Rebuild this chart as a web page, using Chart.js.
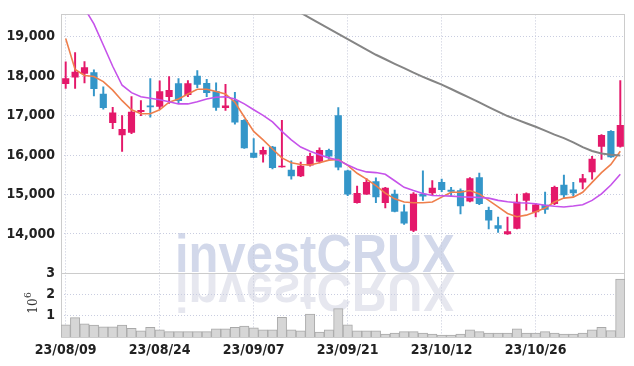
<!DOCTYPE html>
<html><head><meta charset="utf-8">
<script src="https://cdn.jsdelivr.net/npm/chart.js@4.4.0/dist/chart.umd.min.js"></script>
<style>html,body{margin:0;padding:0;background:#fff;}#wrap{width:634px;height:366px;}</style>
</head><body><div id="wrap"><canvas id="c" width="634" height="366"></canvas></div>
<script>
const dates = ["23/08/09","23/08/10","23/08/11","23/08/14","23/08/16","23/08/17","23/08/18","23/08/21","23/08/22","23/08/23",
"23/08/24","23/08/25","23/08/28","23/08/29","23/08/30","23/08/31","23/09/01","23/09/04","23/09/05","23/09/06",
"23/09/07","23/09/08","23/09/11","23/09/12","23/09/13","23/09/14","23/09/15","23/09/18","23/09/19","23/09/20",
"23/09/21","23/09/22","23/09/25","23/09/26","23/09/27","23/10/04","23/10/05","23/10/06","23/10/10","23/10/11",
"23/10/12","23/10/13","23/10/16","23/10/17","23/10/18","23/10/19","23/10/20","23/10/23","23/10/24","23/10/25",
"23/10/26","23/10/27","23/10/30","23/10/31","23/11/01","23/11/02","23/11/03","23/11/06","23/11/07","23/11/08"];
const openP  = [17810,17975,18070,18090,17545,16820,16510,16570,17100,17250,17230,17480,17810,17530,18000,17820,17610,17200,17380,16880,
16050,16020,16200,15700,15620,15470,15740,15840,16120,17000,15600,14790,15010,15330,14790,15010,14560,14090,15010,15040,
15310,15110,15100,14830,15430,14600,14210,14000,14140,14850,14560,14730,14770,15240,15120,15310,15570,16220,16600,16220];
const highP  = [18360,18600,18370,18160,17730,17210,17000,17480,17380,17940,17880,17990,17940,17890,18140,17920,17830,17790,17590,16900,
16420,16200,16220,16880,15850,15820,16050,16180,16150,17200,15620,15210,15400,15420,15180,15110,14740,15050,15600,15350,
15390,15180,15140,15430,15540,14680,14430,14430,15010,15040,14770,15060,15210,15490,15310,15510,15970,16520,16620,17890];
const lowP   = [17690,17690,17830,17500,17160,16670,16090,16540,17000,16960,17170,17310,17300,17480,17710,17480,17130,17130,16780,16170,
15930,15820,15650,15690,15390,15450,15720,15800,15890,15620,14970,14780,15000,14790,14660,14560,14240,14060,14850,14970,
15070,14970,14510,14810,14740,14130,14040,13990,14130,14600,14430,14520,14740,14910,14960,15140,15390,15890,15940,16200];
const closeP = [17940,18100,18220,17680,17200,17070,16650,17090,17130,17220,17610,17640,17380,17810,17790,17580,17210,17250,16830,16180,
15940,16120,15680,15720,15470,15720,15970,16120,15970,15690,15010,15030,15310,14940,15160,14570,14270,15010,14960,15160,
15120,15080,14710,15400,14770,14350,14140,14060,14810,15020,14740,14620,15180,14990,15040,15400,15900,16500,15950,16750];
const maShort = [18955,18167,18017,17992,17860,17644,17378,17147,17047,17047,17147,17338,17420,17545,17669,17669,17610,17545,17338,16965,
16600,16383,16152,15928,15803,15761,15746,15803,15870,15886,15736,15537,15388,15224,15032,14890,14808,14791,14791,14808,
14933,15057,15057,15099,15015,14851,14684,14517,14435,14476,14560,14659,14808,14908,14933,15057,15306,15555,15761,16094];
const maMid = [20800,20260,19720,19323,18789,18251,17769,17582,17478,17438,17403,17353,17296,17296,17353,17420,17463,17478,17420,17296,
17147,17005,16841,16600,16383,16201,16094,16010,15928,15870,15746,15637,15572,15555,15512,15348,15182,15099,15024,14975,
14966,14958,14941,14933,14925,14908,14851,14816,14791,14783,14766,14726,14701,14684,14709,14741,14851,15015,15239,15512];
const maLong = [null,null,null,null,null,null,null,null,null,null,null,null,null,null,null,null,null,null,null,null,
null,null,null,null,19761,19607,19473,19338,19204,19070,18938,18803,18672,18542,18428,18313,18201,18087,17983,17883,
17784,17674,17560,17448,17336,17216,17100,16988,16898,16806,16716,16617,16517,16430,16320,16201,16102,16040,16010,15990];
const volume = [570000,910000,620000,560000,480000,480000,560000,410000,290000,460000,340000,250000,250000,250000,250000,250000,380000,380000,460000,520000,
430000,340000,340000,930000,340000,290000,1080000,230000,340000,1340000,570000,290000,290000,290000,140000,180000,250000,250000,180000,140000,
90000,90000,140000,340000,250000,180000,180000,180000,380000,180000,180000,250000,180000,140000,140000,180000,340000,460000,300000,2730000];
const priceTicks = [14000,15000,16000,17000,18000,19000];
const volumeTicks = [1000000,2000000,3000000];
const dateTickIdx = [0,10,20,30,40,50];

const UP = '#e4186a', DOWN = '#3496c9';
const isUp = i => closeP[i] >= openP[i];
const idx = dates.map((d,i)=>i);
const tickFont = {family:"'Liberation Sans Narrow','DejaVu Sans Condensed',sans-serif", size:14, weight:'bold'};

const watermark = {
  id:'watermark',
  beforeDraw(chart){
    const ctx = chart.ctx;
    const txt = 'investCRUX';
    ctx.save();
    ctx.font = 'bold 53px "Liberation Sans", Arial, sans-serif';
    const w = ctx.measureText(txt).width;
    const sx = 280 / w;
    ctx.textBaseline = 'alphabetic';
    ctx.save(); ctx.translate(175, 272); ctx.scale(sx, 1); ctx.fillStyle = '#d2d8ea'; ctx.fillText(txt, 0, 0); ctx.restore();
    ctx.save(); ctx.translate(175, 273.5); ctx.scale(sx, -1); ctx.fillStyle = '#e6e7ef'; ctx.fillText(txt, 0, 0); ctx.restore();
    ctx.restore();
  },
  beforeDatasetsDraw(chart){
    const ctx = chart.ctx, a = chart.chartArea;
    const yv = chart.scales.yv;
    ctx.save();
    ctx.strokeStyle = '#cccccc'; ctx.lineWidth = 1;
    ctx.strokeRect(Math.round(a.left)+0.5, Math.round(a.top)+0.5, Math.round(a.right-a.left)-1, Math.round(a.bottom-a.top));
    const yd = Math.round(yv.getPixelForValue(volumeTicks[2]))+0.5;
    ctx.beginPath(); ctx.moveTo(a.left, yd); ctx.lineTo(a.right, yd); ctx.stroke();
    // volume axis exponent label
    ctx.fillStyle = '#333';
    ctx.translate(37, 306);
    ctx.rotate(-Math.PI/2);
    ctx.font = '12px "DejaVu Serif", serif';
    ctx.textBaseline = 'alphabetic';
    ctx.textAlign = 'center';
    ctx.fillText('10', 0, 0);
    ctx.font = '9px "DejaVu Serif", serif';
    ctx.textAlign = 'left';
    ctx.fillText('6', 8, -6);
    ctx.restore();
  }
};

new Chart(document.getElementById('c'), {
  type:'bar',
  data:{
    datasets:[
      {type:'line', label:'MA long', data: idx.map(i=>({x:i,y:maLong[i]})), borderColor:'#858585', borderWidth:2, pointRadius:0, order:0, yAxisID:'y'},
      {type:'line', label:'MA mid', data: idx.map(i=>({x:i,y:maMid[i]})), borderColor:'#c653ea', borderWidth:1.6, pointRadius:0, order:0, yAxisID:'y'},
      {type:'line', label:'MA short', data: idx.map(i=>({x:i,y:maShort[i]})), borderColor:'#ef7f4c', borderWidth:1.6, pointRadius:0, order:0, yAxisID:'y'},
      {label:'body', data: idx.map(i=>({x:i,y:[openP[i],closeP[i]]})), backgroundColor: idx.map(i=>isUp(i)?UP:DOWN), barThickness:6.5, grouped:false, order:1, yAxisID:'y'},
      {label:'wick', data: idx.map(i=>({x:i,y:[lowP[i],highP[i]]})), backgroundColor: idx.map(i=>isUp(i)?UP:DOWN), barThickness:1.3, grouped:false, order:2, yAxisID:'y'},
      {label:'volume', data: idx.map(i=>({x:i,y:volume[i]})), backgroundColor:'#d6d6d6', borderColor:'#a9a9a9', borderWidth:1, barPercentage:1, categoryPercentage:1, grouped:false, order:3, yAxisID:'yv'}
    ]
  },
  options:{
    responsive:false, devicePixelRatio:1, animation:false,
    layout:{padding:{top:9,right:9,left:0,bottom:0}},
    plugins:{legend:{display:false}, tooltip:{enabled:false}},
    scales:{
      x:{type:'linear', min:-0.5, max:59.5, offset:false,
        afterBuildTicks: s => { s.ticks = dateTickIdx.map(v=>({value:v})); },
        afterFit: s => { s.height = 29; },
        ticks:{callback: v => dates[v] ?? '', color:'#222', font:tickFont, padding:5, maxRotation:0, autoSkip:false},
        grid:{color:'#c6c9da', drawTicks:false, offset:false},
        border:{display:false, dash:[1,2]}
      },
      yv:{type:'linear', position:'left', stack:'main', stackWeight:1, min:0, max:3000000,
        afterBuildTicks: s => { s.ticks = volumeTicks.map(v=>({value:v})); },
        afterFit: s => { s.width = 61; },
        ticks:{callback: v => String(v/1000000), color:'#222', font:tickFont, padding:6, autoSkip:false},
        grid:{color:'#c9cde0', drawTicks:false},
        border:{display:false, dash:[1,2]}
      },
      y:{type:'linear', position:'left', stack:'main', stackWeight:4.07, min:13000, max:19565,
        afterBuildTicks: s => { s.ticks = priceTicks.map(v=>({value:v})); },
        afterFit: s => { s.width = 61; },
        ticks:{callback: v => v.toLocaleString('en-US'), color:'#222', font:tickFont, padding:6, autoSkip:false},
        grid:{color:'#c9cde0', drawTicks:false},
        border:{display:false, dash:[1,2]}
      }
    }
  },
  plugins:[watermark]
});
</script></body></html>
